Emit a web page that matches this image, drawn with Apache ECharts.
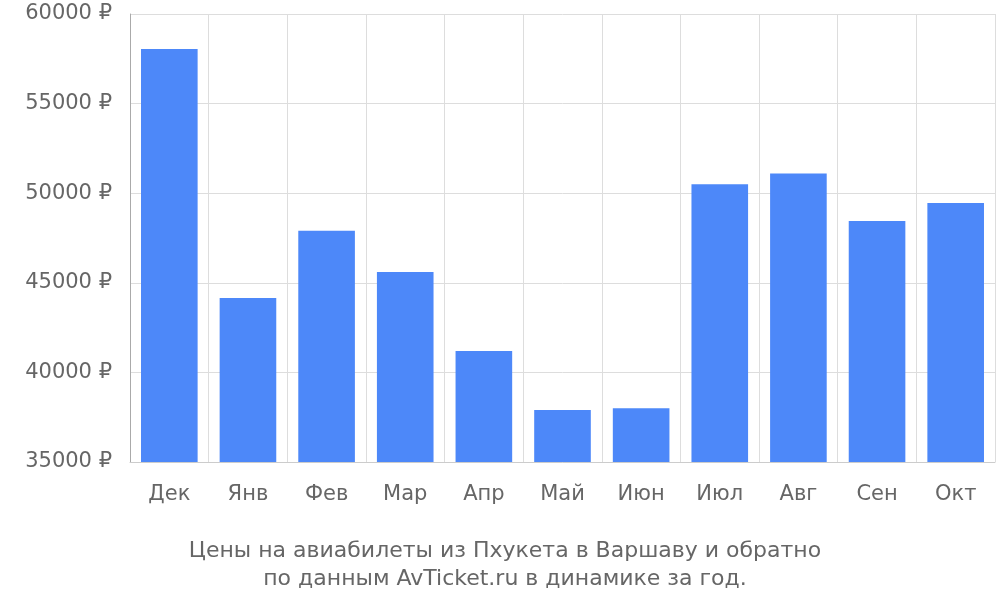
<!DOCTYPE html><html><head><meta charset="utf-8"><script src="https://cdn.jsdelivr.net/npm/echarts@6/dist/echarts.min.js"></script></head><body style="margin:0"><div id="c" style="width:1000px;height:600px"></div><script>
const categories=['Дек','Янв','Фев','Мар','Апр','Май','Июн','Июл','Авг','Сен','Окт'];
const prices=[58050,44150,47900,45600,41200,37900,38000,50500,51100,48450,49450];
const titleLines=['Цены на авиабилеты из Пхукета в Варшаву и обратно','по данным AvTicket.ru в динамике за год.'];
const c=echarts.init(document.getElementById('c'));
c.setOption({
title:{text:titleLines.join('\n'),left:500,top:532,textAlign:'center',textStyle:{fontFamily:'DejaVu Sans',fontSize:22,fontWeight:'normal',color:'#666',lineHeight:28}},
grid:{left:130,right:5,top:14,bottom:138},
xAxis:{type:'category',data:categories,axisLine:{lineStyle:{color:'#ccc'}},axisTick:{length:18,lineStyle:{color:'#ccc'}},splitLine:{show:true,lineStyle:{color:'#ddd'}},axisLabel:{fontFamily:'DejaVu Sans',fontSize:21,color:'#666',margin:22}},
yAxis:{type:'value',min:35000,max:60000,interval:5000,axisLine:{show:true,lineStyle:{color:'#aaa'}},axisTick:{show:true,length:0},splitLine:{lineStyle:{color:'#ddd'}},axisLabel:{fontFamily:'DejaVu Sans',fontSize:21,color:'#666',margin:18,formatter:v=>v+' ₽'}},
series:[{type:'bar',data:prices,barCategoryGap:'28%',itemStyle:{color:'#4d88f9'}}]
});
</script></body></html>
